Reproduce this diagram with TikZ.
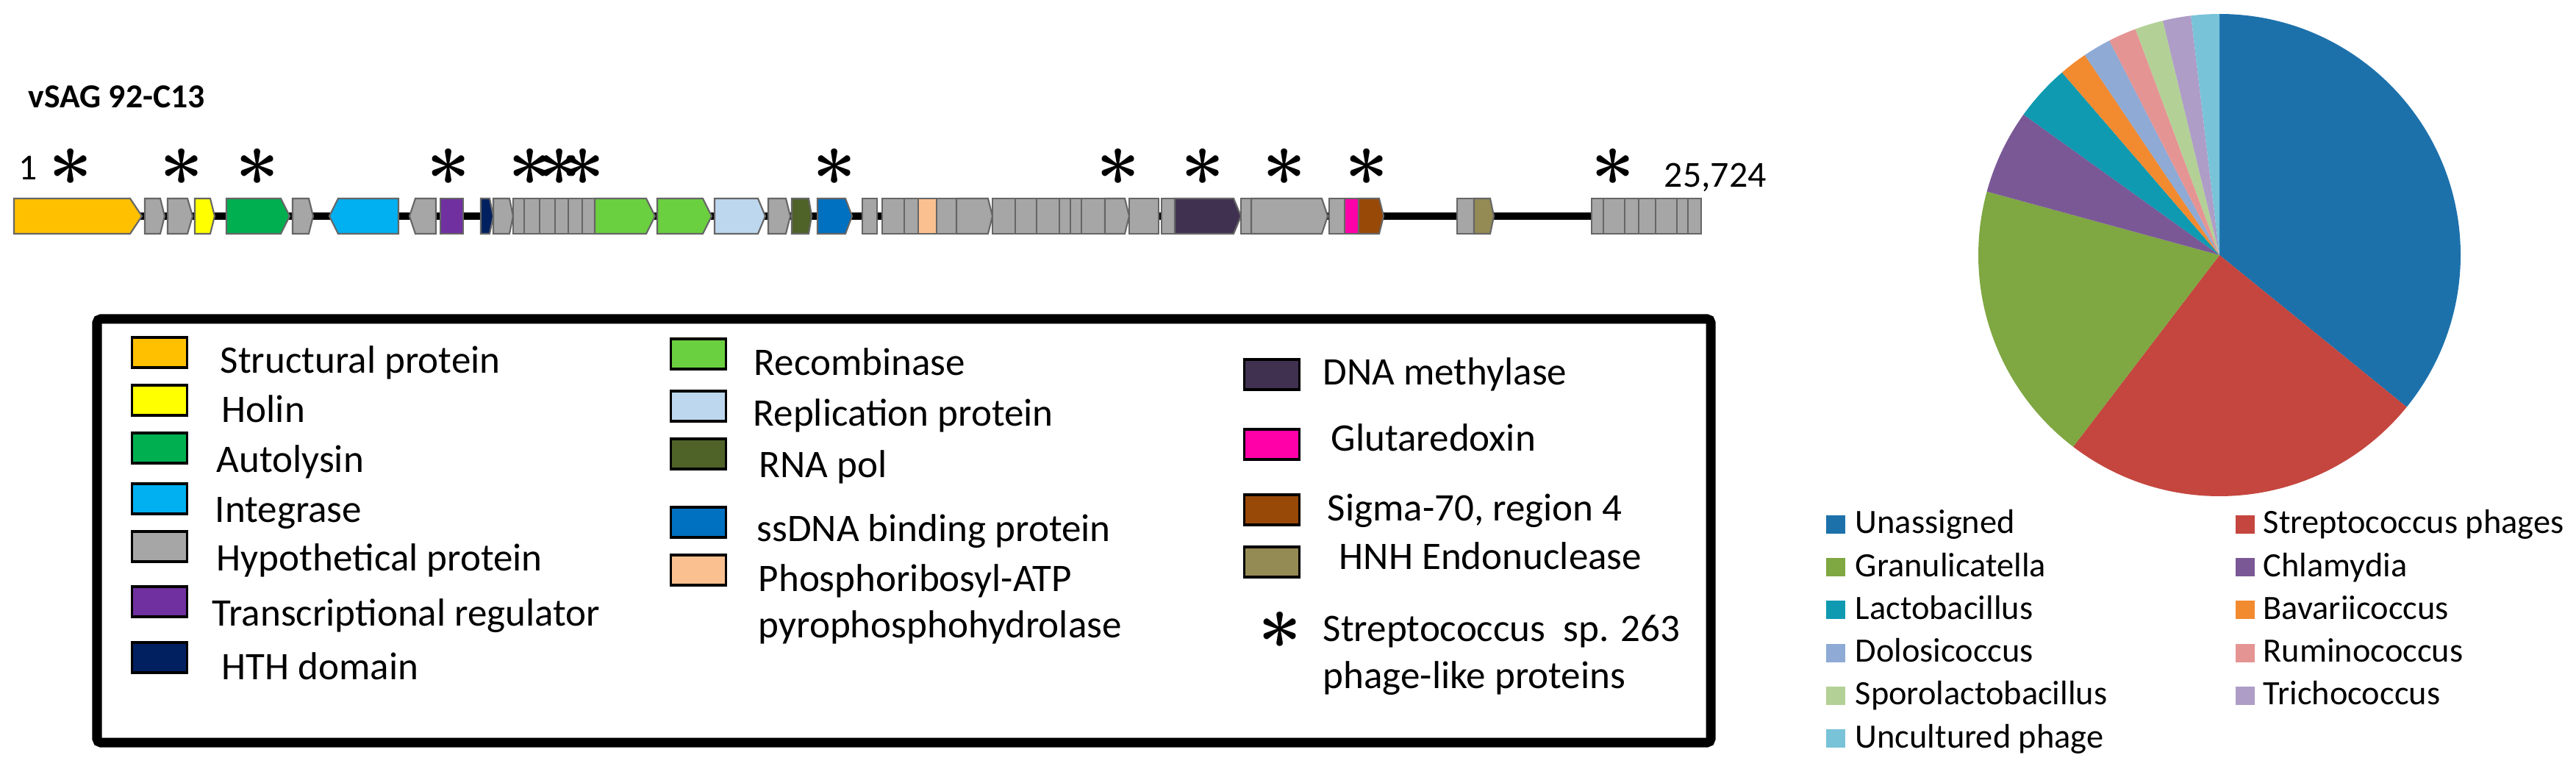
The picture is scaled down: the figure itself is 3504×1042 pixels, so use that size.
\documentclass[tikz,border=0pt]{standalone}
\usepackage{fontspec}
\setmainfont{Carlito}
\newfontfamily\lmfont{Latin Modern Roman}

% gene colours
\definecolor{gStruct}{HTML}{FFC000}
\definecolor{gHolin}{HTML}{FFFF00}
\definecolor{gAuto}{HTML}{00B050}
\definecolor{gInt}{HTML}{00B0F0}
\definecolor{gHypo}{HTML}{A6A6A6}
\definecolor{gTrans}{HTML}{7030A0}
\definecolor{gHTH}{HTML}{002060}
\definecolor{gRecomb}{HTML}{6BD03F}
\definecolor{gRepl}{HTML}{BDD7EE}
\definecolor{gRNA}{HTML}{4F6228}
\definecolor{gssDNA}{HTML}{0070C0}
\definecolor{gPRA}{HTML}{FAC090}
\definecolor{gMeth}{HTML}{403151}
\definecolor{gGlut}{HTML}{FF00A8}
\definecolor{gSigma}{HTML}{984807}
\definecolor{gHNH}{HTML}{948A54}
% pie colours
\definecolor{pUna}{HTML}{1D71AB}
\definecolor{pStr}{HTML}{C4463F}
\definecolor{pGra}{HTML}{7FA742}
\definecolor{pChl}{HTML}{7A5896}
\definecolor{pLac}{HTML}{0F9AB1}
\definecolor{pBav}{HTML}{F28A30}
\definecolor{pDol}{HTML}{8EAAD5}
\definecolor{pRum}{HTML}{E59494}
\definecolor{pSpo}{HTML}{B3D196}
\definecolor{pTri}{HTML}{AE9DC7}
\definecolor{pUnc}{HTML}{79C3D8}

\begin{document}
\begin{tikzpicture}[x=0.1mm, y=-0.1mm,
    gene/.style={draw=black!60, line width=0.6pt},
    legsq/.style={draw, line width=1.1pt, minimum width=7.5mm, minimum height=4.1mm, inner sep=0pt},
    legtxt/.style={font=\fontsize{15.1}{18}\selectfont, inner sep=0pt, anchor=base west},
    piesq/.style={minimum width=2.6mm, minimum height=2.5mm, inner sep=0pt},
    pietxt/.style={font=\fontsize{13.2}{15}\selectfont, inner sep=0pt, anchor=base west},
    phagestar/.style={font=\lmfont\bfseries\fontsize{30}{30}\selectfont, inner sep=0pt}]
    \useasboundingbox (0,0) rectangle (3504,1042);

    % genome track
    \node[font=\fontsize{13}{13}\selectfont\bfseries, anchor=base west, inner sep=0pt] (title) at (38,147) {vSAG 92-C13};
    \node[font=\fontsize{14.2}{14.2}\selectfont, anchor=base west, inner sep=0pt] (posStart) at (25,245) {1};
    \node[font=\fontsize{14.2}{14.2}\selectfont, anchor=base west, inner sep=0pt] (posEnd) at (2263,255) {25,724};
    \coordinate (tStart) at (19,294);
    \coordinate (tEnd) at (2314,294);
    \draw[line width=2.85pt] (tStart) -- (tEnd);
    \foreach \xa/\xb/\ltip/\rtip/\gc in {19/193/0/16/gStruct, 197/224/0/6/gHypo, 228/262/0/7/gHypo,
        265/292/0/6/gHolin, 308/394/0/12/gAuto, 398/426/0/6/gHypo, 448/542/12/0/gInt,
        557/593/8/0/gHypo, 599/630/0/0/gTrans, 654/671/0/5/gHTH, 671/698/0/5/gHypo,
        698/713/0/0/gHypo, 713/734/0/0/gHypo, 734/755/0/0/gHypo, 755/773/0/0/gHypo,
        773/792/0/0/gHypo, 792/809/0/0/gHypo, 809/891/0/12/gRecomb, 894/968/0/12/gRecomb,
        972/1041/0/10/gRepl, 1045/1075/0/6/gHypo, 1077/1104/0/4/gRNA, 1112/1159/0/9/gssDNA,
        1173/1193/0/0/gHypo, 1200/1230/0/0/gHypo, 1230/1249/0/0/gHypo, 1249/1274/0/0/gPRA,
        1274/1301/0/0/gHypo, 1301/1350/0/6/gHypo, 1350/1381/0/0/gHypo, 1381/1410/0/0/gHypo,
        1410/1441/0/0/gHypo, 1441/1456/0/0/gHypo, 1456/1471/0/0/gHypo, 1471/1503/0/0/gHypo,
        1503/1536/0/6/gHypo, 1536/1576/0/0/gHypo, 1580/1598/0/0/gHypo, 1598/1688/0/10/gMeth,
        1688/1702/0/0/gHypo, 1702/1806/0/8/gHypo, 1808/1829/0/0/gHypo, 1829/1848/0/0/gGlut,
        1848/1882/0/6/gSigma, 1982/2005/0/0/gHypo, 2005/2032/0/5/gHNH, 2165/2181/0/0/gHypo,
        2181/2210/0/0/gHypo, 2210/2229/0/0/gHypo, 2229/2252/0/0/gHypo, 2252/2281/0/0/gHypo,
        2281/2296/0/0/gHypo, 2296/2314/0/0/gHypo}{
        \draw[gene, fill=\gc] (\xa,294) -- ({\xa+\ltip},270) -- ({\xb-\rtip},270) -- (\xb,294)
            -- ({\xb-\rtip},318) -- ({\xa+\ltip},318) -- cycle;
    }
    \foreach \xs [count=\k] in {96,247,350,610,721,761,793,1135,1521,1636,1747,1859,2194}{
        \node[phagestar] (ast\k) at (\xs,242) {*};
    }

    % legend
    \draw[line width=3.7pt, rounded corners=0.5mm] (132,434) rectangle (2327,1010);
    \foreach \sy/\ty/\tx/\col/\lab [count=\k] in {457/508/299/gStruct/Structural protein,
        522/575/301/gHolin/Holin, 587/643/294/gAuto/Autolysin, 656/710/292/gInt/Integrase,
        721/777/294/gHypo/Hypothetical protein, 796/851/288/gTrans/Transcriptional regulator,
        872/924/301/gHTH/HTH domain}{
        \node[legsq, fill=\col] (ka\k) at (217,{\sy+22.5}) {};
        \node[legtxt] (la\k) at (\tx,\ty) {\lab};
    }
    \foreach \sy/\ty/\tx/\col/\lab [count=\k] in {459/511/1025/gRecomb/Recombinase,
        530/580/1024/gRepl/Replication protein, 595/650/1032/gRNA/RNA pol,
        688/737/1029/gssDNA/ssDNA binding protein, 753/804/1031/gPRA/Phosphoribosyl-ATP}{
        \node[legsq, fill=\col] (kb\k) at (950,{\sy+22.5}) {};
        \node[legtxt] (lb\k) at (\tx,\ty) {\lab};
    }
    \node[legtxt] (lb6) at (1031,867) {pyrophosphohydrolase};
    \foreach \sy/\ty/\tx/\col/\lab [count=\k] in {487/524/1799/gMeth/DNA methylase,
        582/614/1810/gGlut/Glutaredoxin, 671/708/1805/gSigma/{Sigma-70, region 4},
        742/775/1821/gHNH/HNH Endonuclease}{
        \node[legsq, fill=\col] (kc\k) at (1730,{\sy+22.5}) {};
        \node[legtxt] (lc\k) at (\tx,\ty) {\lab};
    }
    \node[phagestar] (astKey) at (1741,872) {*};
    \node[legtxt] (lc5) at (1799,872) {Streptococcus~~sp. 263};
    \node[legtxt] (lc6) at (1799,936) {phage-like proteins};

    % pie chart
    \coordinate (pc) at (3019,347);
    \foreach \a/\b/\pcol in {0/19/pUna, 19/32/pStr, 32/42/pGra, 42/45/pChl, 45/47/pLac,
        47/48/pBav, 48/49/pDol, 49/50/pRum, 50/51/pSpo, 51/52/pTri, 52/53/pUnc}{
        \fill[\pcol] (pc) -- ++({90-\a*6.79245}:32.8mm)
            arc[start angle={90-\a*6.79245}, end angle={90-\b*6.79245}, radius=32.8mm] -- cycle;
    }
    \foreach \row/\pcol/\lab in {0/pUna/Unassigned, 1/pGra/Granulicatella, 2/pLac/Lactobacillus,
        3/pDol/Dolosicoccus, 4/pSpo/Sporolactobacillus, 5/pUnc/Uncultured phage}{
        \node[piesq, fill=\pcol] (pk\row) at (2497,{713.5+58.2*\row}) {};
        \node[pietxt] (pl\row) at (2523,{726+58.2*\row}) {\lab};
    }
    \foreach \row/\pcol/\lab in {0/pStr/Streptococcus phages, 1/pChl/Chlamydia,
        2/pBav/Bavariicoccus, 3/pRum/Ruminococcus, 4/pTri/Trichococcus}{
        \node[piesq, fill=\pcol] (pm\row) at (3054,{713.5+58.2*\row}) {};
        \node[pietxt] (pn\row) at (3078,{726+58.2*\row}) {\lab};
    }
\end{tikzpicture}
\end{document}
